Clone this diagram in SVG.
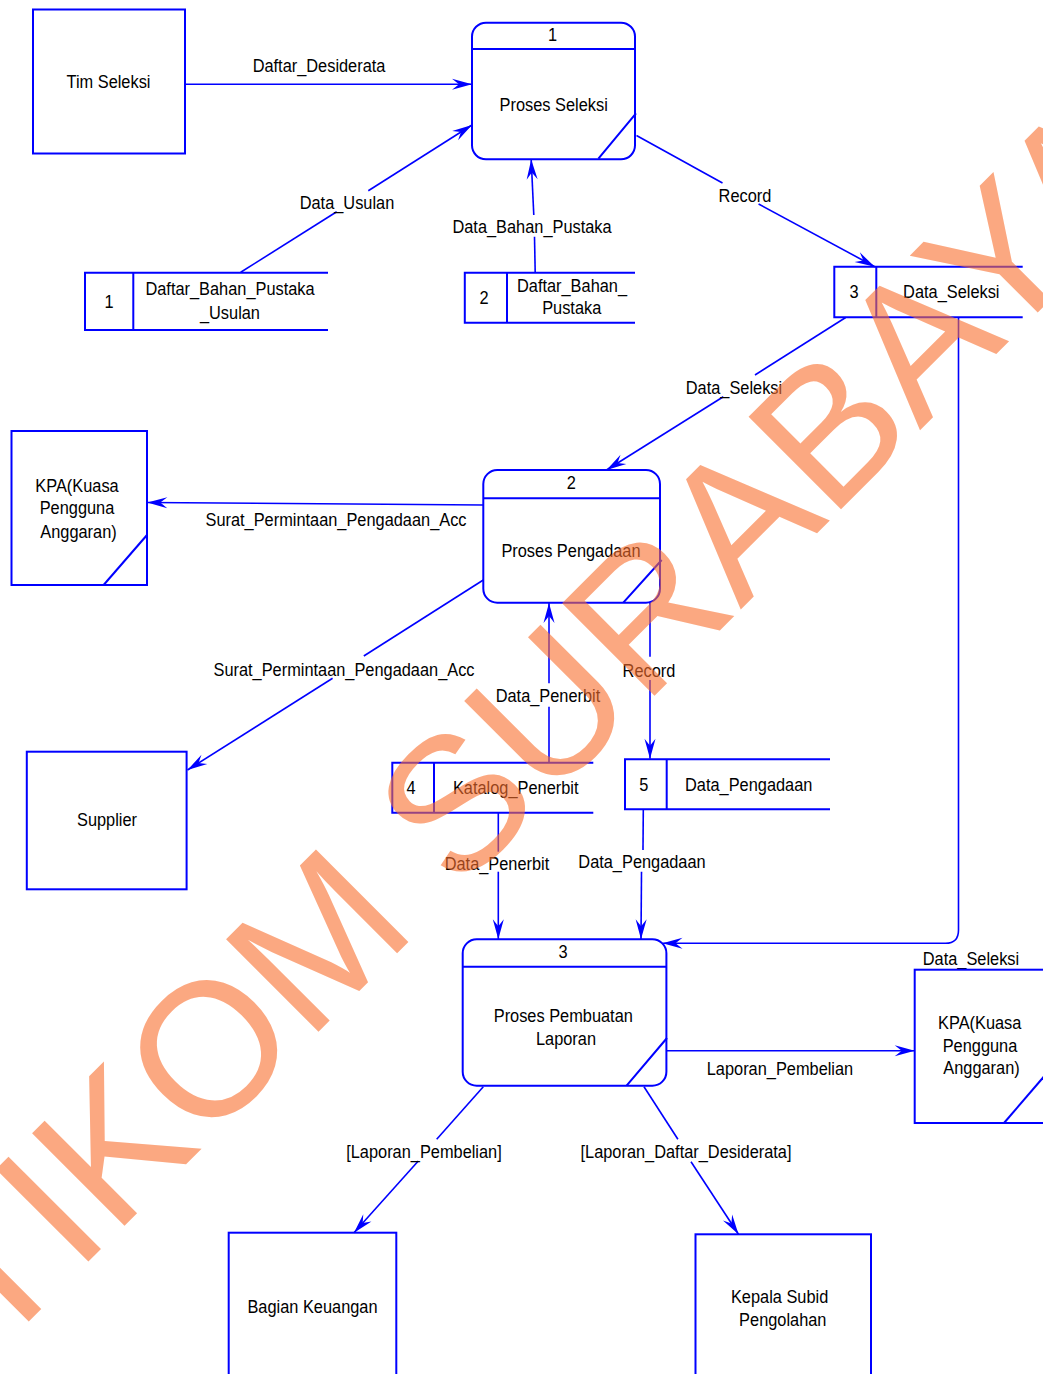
<svg xmlns="http://www.w3.org/2000/svg" width="1043" height="1374" viewBox="0 0 1043 1374">
<style>
.bx{fill:none;stroke:#0000ff;stroke-width:2}
.ln{fill:none;stroke:#0000ff;stroke-width:1.6}
.ar{fill:none;stroke:#0000ff;stroke-width:1.6;marker-end:url(#ah)}
.t{font-family:"Liberation Sans",Arial,sans-serif;font-size:17.5px;fill:#000;text-anchor:middle;transform:scaleX(0.935);transform-box:fill-box;transform-origin:center}
.wm{font-family:"Liberation Sans",Arial,sans-serif;font-size:190px;fill:#FA702F;opacity:0.6}
</style>
<defs>
<marker id="ah" markerUnits="userSpaceOnUse" viewBox="-21 -7 22 14" refX="0" refY="0" markerWidth="22" markerHeight="14" orient="auto">
<path d="M0,0 L-20,-5.5 L-13,0 L-20,5.5 Z" fill="#0000ff"/>
</marker>
</defs>
<rect width="1043" height="1374" fill="#fff"/>

<g id="connectors">
<path class="ar" d="M185,84.3 H472"/>
<text class="t" x="319" y="71.7">Daftar_Desiderata</text>
<path class="ln" d="M240.7,272.3 L336.7,211.7"/>
<path class="ar" d="M368.3,190.7 L472,125"/>
<text class="t" x="347" y="209">Data_Usulan</text>
<path class="ln" d="M535.2,272.7 L534.5,236.7"/>
<path class="ar" d="M533.8,215 L531.2,159.5"/>
<text class="t" x="532" y="233">Data_Bahan_Pustaka</text>
<path class="ln" d="M636.5,135.5 L722.5,183"/>
<path class="ar" d="M758.6,204 L874.8,266.7"/>
<text class="t" x="745" y="201.7">Record</text>
<path class="ln" d="M845.7,317.5 L755,375"/>
<path class="ar" d="M723.3,396.7 L606.5,470"/>
<text class="t" x="734" y="394">Data_Seleksi</text>
<path class="ar" d="M958.5,317.5 V930 Q958.5,943.3 945.5,943.3 H662.5"/>
<text class="t" x="971" y="965">Data_Seleksi</text>
<path class="ar" d="M483.3,505 L147.3,502.5"/>
<text class="t" x="336" y="526">Surat_Permintaan_Pengadaan_Acc</text>
<path class="ln" d="M483.3,580 L363.8,656"/>
<path class="ar" d="M332.6,678.3 L187.5,770"/>
<text class="t" x="344" y="676">Surat_Permintaan_Pengadaan_Acc</text>
<path class="ln" d="M549,762.7 V706.7"/>
<path class="ar" d="M549,683.3 V603"/>
<text class="t" x="548" y="701.7">Data_Penerbit</text>
<path class="ln" d="M650,602.7 V656.7"/>
<path class="ar" d="M650,680 V758.8"/>
<text class="t" x="649" y="676.7">Record</text>
<path class="ln" d="M498.3,812.7 V851.7"/>
<path class="ar" d="M498.3,871.7 V939.3"/>
<text class="t" x="497" y="870">Data_Penerbit</text>
<path class="ln" d="M643.3,809.3 L643,850"/>
<path class="ar" d="M641.5,871.7 L641,939.3"/>
<text class="t" x="642" y="868.3">Data_Pengadaan</text>
<path class="ar" d="M666.4,1050.7 H914.7"/>
<text class="t" x="780" y="1075">Laporan_Pembelian</text>
<path class="ln" d="M483.3,1086.7 L436.7,1139.3"/>
<path class="ar" d="M418.3,1161 L354,1232.7"/>
<text class="t" x="424" y="1158.3">[Laporan_Pembelian]</text>
<path class="ln" d="M644,1086.7 L677.9,1139.3"/>
<path class="ar" d="M691,1161.7 L738.5,1234.3"/>
<text class="t" x="686" y="1158.3">[Laporan_Daftar_Desiderata]</text>
</g>

<g id="tim-seleksi">
<rect class="bx" x="33" y="9.5" width="152" height="144"/>
<text class="t" x="108.5" y="88.3">Tim Seleksi</text>
</g>

<g id="proses-1">
<rect class="bx" x="472" y="22.7" width="163" height="136.6" rx="14"/>
<path class="bx" d="M472,49 H635 M598.4,158.7 L636,113.3"/>
<text class="t" x="552.5" y="40.7">1</text>
<text class="t" x="553.7" y="111">Proses Seleksi</text>
</g>

<g id="store-1">
<path class="bx" d="M328,272.7 H85 V330 H328 M133.3,272.7 V330"/>
<text class="t" x="109" y="308.3">1</text>
<text class="t" x="230" y="295">Daftar_Bahan_Pustaka</text>
<text class="t" x="230" y="319">_Usulan</text>
</g>

<g id="store-2">
<path class="bx" d="M635,272.7 H464.8 V322.7 H635 M507,272.7 V322.7"/>
<text class="t" x="484" y="304">2</text>
<text class="t" x="572" y="292">Daftar_Bahan_</text>
<text class="t" x="571.7" y="314.3">Pustaka</text>
</g>

<g id="store-3">
<path class="bx" d="M1022.7,266.7 H834.3 V317.3 H1022.7 M876.3,266.7 V317.3"/>
<text class="t" x="854" y="298.3">3</text>
<text class="t" x="951.3" y="298.3">Data_Seleksi</text>
</g>

<g id="kpa-1">
<rect class="bx" x="11.5" y="431" width="135.5" height="154"/>
<path class="bx" d="M103.6,585 L147,535"/>
<text class="t" x="77" y="491.7">KPA(Kuasa</text>
<text class="t" x="77" y="514.5">Pengguna</text>
<text class="t" x="78.5" y="538.3">Anggaran)</text>
</g>

<g id="proses-2">
<rect class="bx" x="483.3" y="470" width="176.7" height="132.7" rx="14"/>
<path class="bx" d="M483.3,498.3 H660 M623.3,602.7 L661.7,560"/>
<text class="t" x="571.4" y="489.3">2</text>
<text class="t" x="571" y="556.7">Proses Pengadaan</text>
</g>

<g id="supplier">
<rect class="bx" x="26.8" y="751.7" width="159.8" height="137.6"/>
<text class="t" x="107" y="826">Supplier</text>
</g>

<g id="store-4">
<path class="bx" d="M593.3,762.7 H392.3 V812.7 H593.3 M434,762.7 V812.7"/>
<text class="t" x="411" y="794.3">4</text>
<text class="t" x="515.7" y="794.3">Katalog_Penerbit</text>
</g>

<g id="store-5">
<path class="bx" d="M830,759.3 H625 V809.3 H830 M666.7,759.3 V809.3"/>
<text class="t" x="643.7" y="791">5</text>
<text class="t" x="748.7" y="791">Data_Pengadaan</text>
</g>

<g id="proses-3">
<rect class="bx" x="462.7" y="939.3" width="203.7" height="146.4" rx="14"/>
<path class="bx" d="M462.7,966.7 H666.4 M626.6,1085.7 L667,1038"/>
<text class="t" x="563" y="958.3">3</text>
<text class="t" x="563.3" y="1021.7">Proses Pembuatan</text>
<text class="t" x="566" y="1045">Laporan</text>
</g>

<g id="kpa-2">
<rect class="bx" x="914.7" y="969.7" width="135" height="153.3"/>
<path class="bx" d="M1004,1123 L1047,1073"/>
<text class="t" x="979.7" y="1029">KPA(Kuasa</text>
<text class="t" x="980" y="1051.7">Pengguna</text>
<text class="t" x="981.5" y="1074">Anggaran)</text>
</g>

<g id="bagian-keuangan">
<rect class="bx" x="228.7" y="1232.7" width="167.6" height="170"/>
<text class="t" x="312.5" y="1313.3">Bagian Keuangan</text>
</g>

<g id="kepala-subid">
<rect class="bx" x="695.5" y="1234.3" width="175.5" height="170"/>
<text class="t" x="779.6" y="1303.3">Kepala Subid</text>
<text class="t" x="782.8" y="1325.7">Pengolahan</text>
</g>

<text class="wm" transform="translate(-95.6 1445.8) rotate(-45)">STIKOM SURABAYA</text>
</svg>
